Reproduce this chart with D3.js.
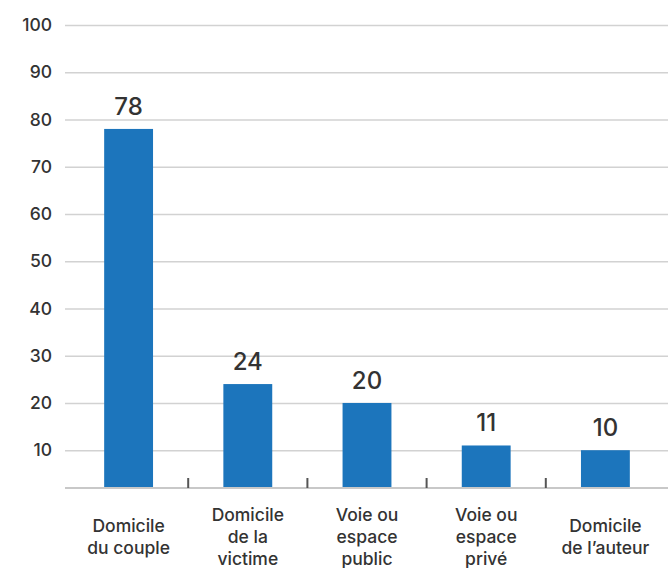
<!DOCTYPE html>
<html>
<head>
<meta charset="utf-8">
<script src="https://cdn.jsdelivr.net/npm/d3@7"></script>
<style>
  html, body { margin: 0; padding: 0; background: #fff; }
  text { font-family: Inter, sans-serif; fill: #333; font-weight: 500; }
</style>
</head>
<body>
<div id="chart"></div>
<script>
// Data
const categories = [
  ["Domicile", "du couple"],
  ["Domicile", "de la", "victime"],
  ["Voie ou", "espace", "public"],
  ["Voie ou", "espace", "privé"],
  ["Domicile", "de l’auteur"]
];
const values = [78, 24, 20, 11, 10];
const yTicks = [10, 20, 30, 40, 50, 60, 70, 80, 90, 100];

const width = 668;
const height = 568;
const marginTop = 25;
const marginBottom = 80;
const gridLeft = 65;
const plotLeft = 69;
const plotRight = 665;

const keys = categories.map((d) => d.join(" "));

const x = d3.scaleBand(keys, [plotLeft, plotRight]).paddingInner(0.59).paddingOuter(0.295);

// the axis line sits a bit above zero in the original
const y = d3.scaleLinear([2, 100], [height - marginBottom, marginTop]);

const svg = d3.create("svg").attr("width", width).attr("height", height);

// Gridlines and y labels
svg
  .append("g")
  .attr("transform", `translate(${gridLeft},0)`)
  .call(d3.axisLeft(y).tickValues(yTicks).tickSize(0).tickPadding(13))
  .call((g) => g.select(".domain").remove())
  .call((g) =>
    g
      .selectAll(".tick text")
      .attr("font-size", 17.5)
      .attr("fill", "#333")
      .style("font-family", "Inter, sans-serif")
      .style("font-weight", 500)
  )
  .call((g) =>
    g
      .selectAll(".tick line")
      .clone()
      .attr("x2", width - gridLeft)
      .attr("stroke", "#d2d2d2")
      .attr("stroke-width", 1.5)
  );

// Bars
svg
  .append("g")
  .attr("fill", "#1c75bc")
  .selectAll("rect")
  .data(values)
  .join("rect")
  .attr("x", (d, i) => x(keys[i]))
  .attr("width", x.bandwidth())
  .attr("y", (d) => y(d))
  .attr("height", (d) => y(2) - y(d));

// Baseline
svg
  .append("line")
  .attr("x1", gridLeft)
  .attr("x2", width)
  .attr("y1", y(2))
  .attr("y2", y(2))
  .attr("stroke", "#c8c8c8")
  .attr("stroke-width", 2);

// Separator ticks between categories
const step = x.step();
svg
  .append("g")
  .selectAll("line")
  .data(keys.slice(1))
  .join("line")
  .attr("x1", (d) => x(d) - (step - x.bandwidth()) / 2)
  .attr("x2", (d) => x(d) - (step - x.bandwidth()) / 2)
  .attr("y1", y(2) - 10)
  .attr("y2", y(2))
  .attr("stroke", "#555")
  .attr("stroke-width", 2);

// Value labels
svg
  .append("g")
  .selectAll("text")
  .data(values)
  .join("text")
  .attr("x", (d, i) => x(keys[i]) + x.bandwidth() / 2)
  .attr("y", (d) => y(d) - 14)
  .attr("text-anchor", "middle")
  .attr("font-size", 24)
  .text((d) => d);

// Category labels
const lineH = 22;
const labels = svg
  .append("g")
  .selectAll("text")
  .data(categories)
  .join("text")
  .attr("text-anchor", "middle")
  .attr("font-size", 17.5)
  .attr("transform", (d, i) => `translate(${x(keys[i]) + x.bandwidth() / 2},${543 - ((d.length - 1) * lineH) / 2})`);

labels
  .selectAll("tspan")
  .data((d) => d)
  .join("tspan")
  .attr("x", 0)
  .attr("y", (d, i) => i * lineH)
  .text((d) => d);

d3.select("#chart").node().appendChild(svg.node());
</script>
</body>
</html>
